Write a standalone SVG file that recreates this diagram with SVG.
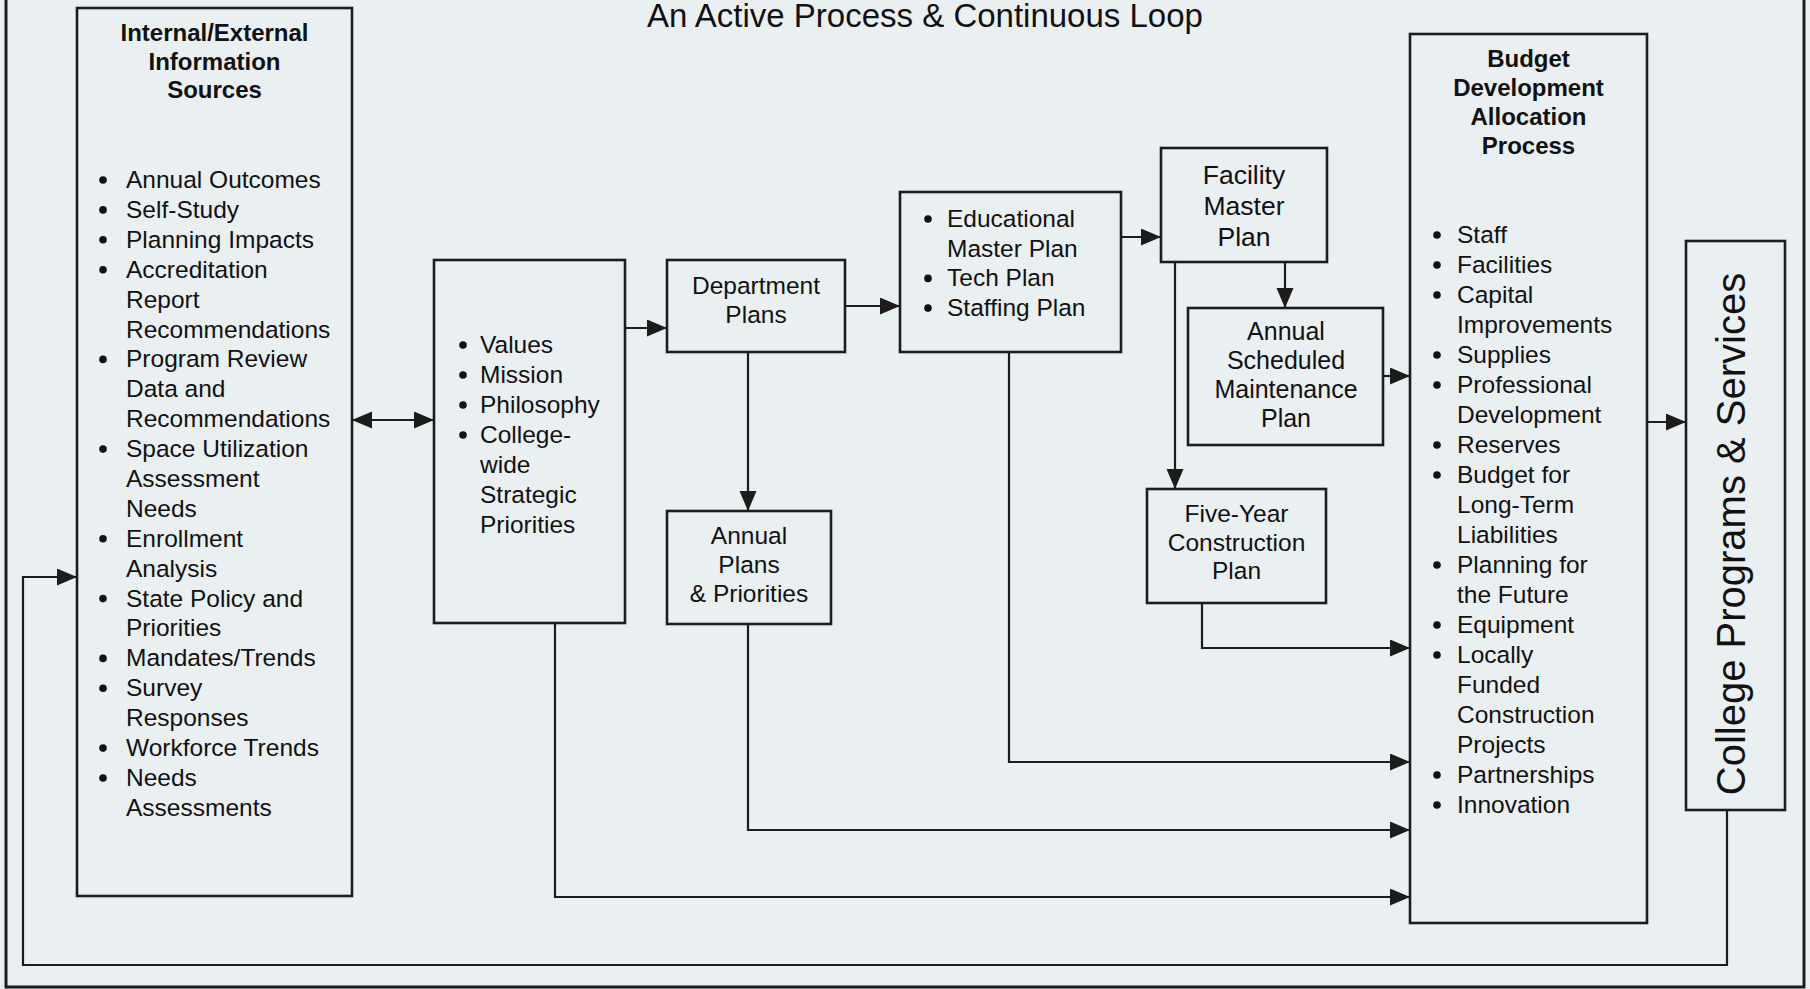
<svg xmlns="http://www.w3.org/2000/svg" width="1810" height="989" viewBox="0 0 1810 989">
<defs>
<style>
.bg{fill:#eaeff1}
.box{fill:none;stroke:#1c1c1c;stroke-width:2.6}
.frame{fill:none;stroke:#1c1c1c;stroke-width:3}
.con{fill:none;stroke:#1c1c1c;stroke-width:2.2}
.t{font-family:"Liberation Sans",Arial,sans-serif;font-size:24.5px;fill:#111}
.c{text-anchor:middle}
.b{font-weight:bold;font-size:24px}
.title{font-family:"Liberation Sans",Arial,sans-serif;font-size:33px;fill:#111;text-anchor:middle}
.dot{fill:#111}
</style>
<marker id="ah" markerWidth="21" markerHeight="18" refX="20" refY="8.5" orient="auto-start-reverse" markerUnits="userSpaceOnUse">
<path d="M0,0 L20,8.5 L0,17 Z" fill="#1c1c1c"/>
</marker>
</defs>
<rect class="bg" x="0" y="0" width="1810" height="989"/>
<path class="frame" d="M6,0 V987 H1804 V0"/>
<text class="title" x="925" y="27">An Active Process &amp; Continuous Loop</text>

<g id="connectors">
<path class="con" d="M352,420 H434" marker-start="url(#ah)" marker-end="url(#ah)"/>
<path class="con" d="M625,328 H667" marker-end="url(#ah)"/>
<path class="con" d="M845,306 H900" marker-end="url(#ah)"/>
<path class="con" d="M1121,237 H1161" marker-end="url(#ah)"/>
<path class="con" d="M748,352 V511" marker-end="url(#ah)"/>
<path class="con" d="M1285,262 V308" marker-end="url(#ah)"/>
<path class="con" d="M1175,262 V489" marker-end="url(#ah)"/>
<path class="con" d="M1383,376 H1410" marker-end="url(#ah)"/>
<path class="con" d="M1202,603 V648 H1410" marker-end="url(#ah)"/>
<path class="con" d="M1009,352 V762 H1410" marker-end="url(#ah)"/>
<path class="con" d="M748,624 V830 H1410" marker-end="url(#ah)"/>
<path class="con" d="M555,623 V897 H1410" marker-end="url(#ah)"/>
<path class="con" d="M1647,422 H1686" marker-end="url(#ah)"/>
<path class="con" d="M1727,810 V965 H23 V577 H77" marker-end="url(#ah)"/>
</g>

<g id="info-sources">
<rect class="box" x="77" y="8" width="275" height="888"/>
<text class="t b c" x="214.5" y="41">Internal/External</text>
<text class="t b c" x="214.5" y="69.5">Information</text>
<text class="t b c" x="214.5" y="98">Sources</text>
<text class="t" x="126" y="188">Annual Outcomes<tspan x="126" dy="29.9">Self-Study</tspan><tspan x="126" dy="29.9">Planning Impacts</tspan><tspan x="126" dy="29.9">Accreditation</tspan><tspan x="126" dy="29.9">Report</tspan><tspan x="126" dy="29.9">Recommendations</tspan><tspan x="126" dy="29.9">Program Review</tspan><tspan x="126" dy="29.9">Data and</tspan><tspan x="126" dy="29.9">Recommendations</tspan><tspan x="126" dy="29.9">Space Utilization</tspan><tspan x="126" dy="29.9">Assessment</tspan><tspan x="126" dy="29.9">Needs</tspan><tspan x="126" dy="29.9">Enrollment</tspan><tspan x="126" dy="29.9">Analysis</tspan><tspan x="126" dy="29.9">State Policy and</tspan><tspan x="126" dy="29.9">Priorities</tspan><tspan x="126" dy="29.9">Mandates/Trends</tspan><tspan x="126" dy="29.9">Survey</tspan><tspan x="126" dy="29.9">Responses</tspan><tspan x="126" dy="29.9">Workforce Trends</tspan><tspan x="126" dy="29.9">Needs</tspan><tspan x="126" dy="29.9">Assessments</tspan></text>
<g class="dot">
<circle cx="103" cy="180" r="3.8"/>
<circle cx="103" cy="209.9" r="3.8"/>
<circle cx="103" cy="239.8" r="3.8"/>
<circle cx="103" cy="269.7" r="3.8"/>
<circle cx="103" cy="359.4" r="3.8"/>
<circle cx="103" cy="449.1" r="3.8"/>
<circle cx="103" cy="538.8" r="3.8"/>
<circle cx="103" cy="598.6" r="3.8"/>
<circle cx="103" cy="658.4" r="3.8"/>
<circle cx="103" cy="688.3" r="3.8"/>
<circle cx="103" cy="748.1" r="3.8"/>
<circle cx="103" cy="778" r="3.8"/>
</g>
</g>

<g id="values">
<rect class="box" x="434" y="260" width="191" height="363"/>
<text class="t" x="480" y="353">Values<tspan x="480" dy="30">Mission</tspan><tspan x="480" dy="30">Philosophy</tspan><tspan x="480" dy="30">College-</tspan><tspan x="480" dy="30">wide</tspan><tspan x="480" dy="30">Strategic</tspan><tspan x="480" dy="30">Priorities</tspan></text>
<g class="dot">
<circle cx="463" cy="345" r="3.8"/>
<circle cx="463" cy="375" r="3.8"/>
<circle cx="463" cy="405" r="3.8"/>
<circle cx="463" cy="435" r="3.8"/>
</g>
</g>

<g id="department-plans">
<rect class="box" x="667" y="260" width="178" height="92"/>
<text class="t c" x="756" y="294">Department</text>
<text class="t c" x="756" y="323">Plans</text>
</g>

<g id="annual-plans">
<rect class="box" x="667" y="511" width="164" height="113"/>
<text class="t c" x="749" y="544">Annual</text>
<text class="t c" x="749" y="573">Plans</text>
<text class="t c" x="749" y="602">&amp; Priorities</text>
</g>

<g id="educational-plans">
<rect class="box" x="900" y="192" width="221" height="160"/>
<text class="t" x="947" y="227">Educational<tspan x="947" dy="29.7">Master Plan</tspan><tspan x="947" dy="29.7">Tech Plan</tspan><tspan x="947" dy="29.7">Staffing Plan</tspan></text>
<g class="dot">
<circle cx="928" cy="219" r="3.8"/>
<circle cx="928" cy="278.4" r="3.8"/>
<circle cx="928" cy="308.1" r="3.8"/>
</g>
</g>

<g id="facility-master-plan">
<rect class="box" x="1161" y="148" width="166" height="114"/>
<text class="t c" x="1244" y="184" style="font-size:26.5px">Facility</text>
<text class="t c" x="1244" y="215" style="font-size:26.5px">Master</text>
<text class="t c" x="1244" y="246" style="font-size:26.5px">Plan</text>
</g>

<g id="annual-scheduled-maintenance">
<rect class="box" x="1188" y="308" width="195" height="137"/>
<text class="t c" x="1286" y="340" style="font-size:25px">Annual</text>
<text class="t c" x="1286" y="369" style="font-size:25px">Scheduled</text>
<text class="t c" x="1286" y="398" style="font-size:25px">Maintenance</text>
<text class="t c" x="1286" y="427" style="font-size:25px">Plan</text>
</g>

<g id="five-year-construction">
<rect class="box" x="1147" y="489" width="179" height="114"/>
<text class="t c" x="1236.5" y="522">Five-Year</text>
<text class="t c" x="1236.5" y="550.5">Construction</text>
<text class="t c" x="1236.5" y="579">Plan</text>
</g>

<g id="budget-process">
<rect class="box" x="1410" y="34" width="237" height="889"/>
<text class="t b c" x="1528.5" y="67">Budget</text>
<text class="t b c" x="1528.5" y="96">Development</text>
<text class="t b c" x="1528.5" y="125">Allocation</text>
<text class="t b c" x="1528.5" y="154">Process</text>
<text class="t" x="1457" y="243">Staff<tspan x="1457" dy="30">Facilities</tspan><tspan x="1457" dy="30">Capital</tspan><tspan x="1457" dy="30">Improvements</tspan><tspan x="1457" dy="30">Supplies</tspan><tspan x="1457" dy="30">Professional</tspan><tspan x="1457" dy="30">Development</tspan><tspan x="1457" dy="30">Reserves</tspan><tspan x="1457" dy="30">Budget for</tspan><tspan x="1457" dy="30">Long-Term</tspan><tspan x="1457" dy="30">Liabilities</tspan><tspan x="1457" dy="30">Planning for</tspan><tspan x="1457" dy="30">the Future</tspan><tspan x="1457" dy="30">Equipment</tspan><tspan x="1457" dy="30">Locally</tspan><tspan x="1457" dy="30">Funded</tspan><tspan x="1457" dy="30">Construction</tspan><tspan x="1457" dy="30">Projects</tspan><tspan x="1457" dy="30">Partnerships</tspan><tspan x="1457" dy="30">Innovation</tspan></text>
<g class="dot">
<circle cx="1437" cy="235" r="3.8"/>
<circle cx="1437" cy="265" r="3.8"/>
<circle cx="1437" cy="295" r="3.8"/>
<circle cx="1437" cy="355" r="3.8"/>
<circle cx="1437" cy="385" r="3.8"/>
<circle cx="1437" cy="445" r="3.8"/>
<circle cx="1437" cy="475" r="3.8"/>
<circle cx="1437" cy="565" r="3.8"/>
<circle cx="1437" cy="625" r="3.8"/>
<circle cx="1437" cy="655" r="3.8"/>
<circle cx="1437" cy="775" r="3.8"/>
<circle cx="1437" cy="805" r="3.8"/>
</g>
</g>

<g id="college-programs">
<rect class="box" x="1686" y="241" width="99" height="569"/>
<text class="t c" x="0" y="0" style="font-size:40px" transform="translate(1745,534) rotate(-90)">College Programs &amp; Services</text>
</g>
</svg>
